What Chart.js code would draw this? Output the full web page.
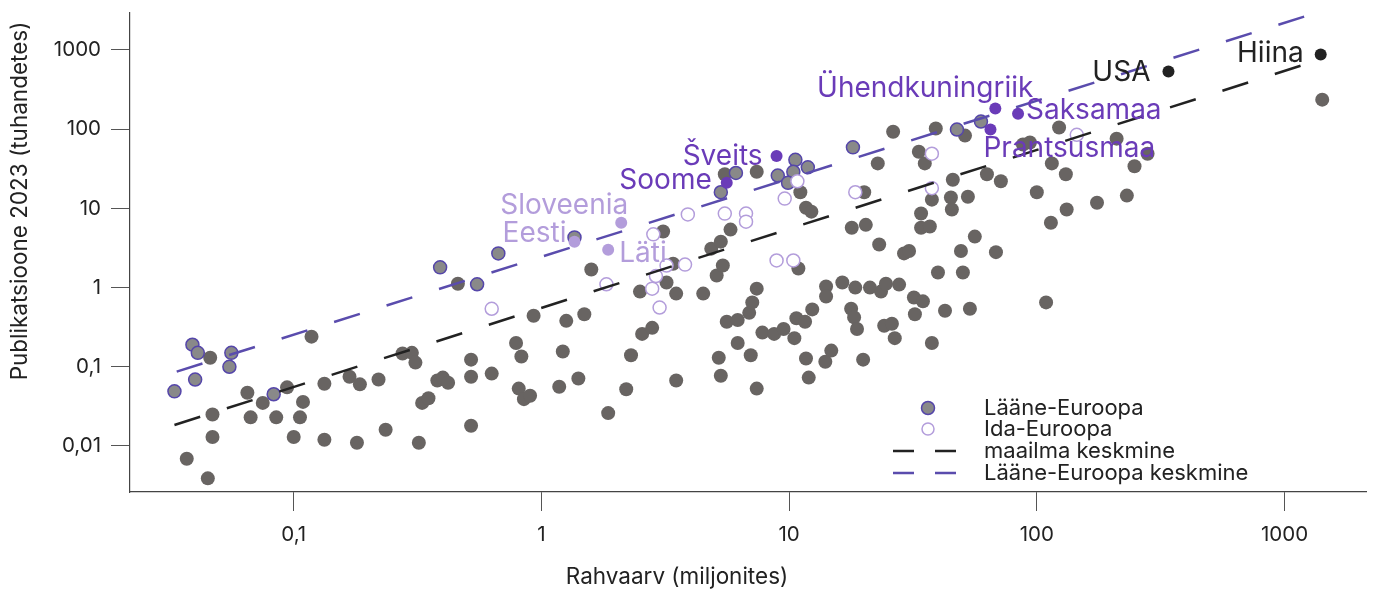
<!DOCTYPE html>
<html>
<head>
<meta charset="utf-8">
<script src="https://cdn.jsdelivr.net/npm/chart.js@4/dist/chart.umd.min.js"></script>
<style>
  html, body { margin: 0; padding: 0; background: #fff; }
  #wrap { width: 1375px; height: 592px; }
</style>
</head>
<body>
<div id="wrap"><canvas id="chart" width="1375" height="592"></canvas></div>
<script>
// population (millions), publications 2023 (thousands)
const otherCountries = [
  [0.037, 0.0069], [0.045, 0.0039], [0.046, 0.13], [0.047, 0.025], [0.047, 0.013], [0.065, 0.047], [0.067, 0.023], [0.075, 0.035], [0.085, 0.023], [0.094, 0.055],
  [0.10, 0.013], [0.106, 0.023], [0.109, 0.036], [0.118, 0.24], [0.133, 0.061], [0.133, 0.012], [0.168, 0.075], [0.18, 0.011], [0.185, 0.06], [0.22, 0.069],
  [0.235, 0.016], [0.275, 0.147], [0.30, 0.15], [0.31, 0.113], [0.32, 0.011], [0.33, 0.035], [0.35, 0.040], [0.38, 0.067], [0.40, 0.073], [0.42, 0.063],
  [0.46, 1.12], [0.52, 0.123], [0.52, 0.075], [0.52, 0.018], [0.63, 0.082], [0.79, 0.20], [0.83, 0.135], [0.81, 0.053], [0.85, 0.039], [0.90, 0.043],
  [0.93, 0.44], [1.18, 0.056], [1.22, 0.156], [1.26, 0.38], [1.41, 0.071], [1.49, 0.46], [1.59, 1.69], [1.86, 0.026], [2.2, 0.052], [2.3, 0.14],
  [2.5, 0.89], [2.55, 0.26], [2.8, 0.31], [3.1, 5.1], [3.2, 1.16], [3.4, 2.0], [3.5, 0.84], [3.5, 0.067], [4.5, 0.84], [4.85, 3.1],
  [5.1, 1.42], [5.2, 0.13], [5.3, 3.8], [5.3, 0.077], [5.4, 1.9], [5.5, 27], [5.6, 0.37], [5.8, 5.4], [6.2, 0.20], [6.2, 0.39],
  [6.9, 0.48], [7.0, 0.14], [7.1, 0.65], [7.4, 0.97], [7.4, 29], [7.4, 0.053], [7.8, 0.27], [8.7, 0.26], [9.5, 0.30], [10.5, 0.23],
  [10.7, 0.41], [10.9, 1.74], [11.1, 16], [11.6, 0.37], [11.7, 10.2], [11.7, 0.127], [12.0, 0.073], [12.3, 9.1], [12.4, 0.53], [14.0, 0.116],
  [14.1, 1.03], [14.1, 0.77], [14.8, 0.16], [16.4, 1.16], [17.8, 0.54], [17.9, 5.7], [18.3, 0.42], [18.5, 1.0], [18.8, 0.30], [19.9, 0.123],
  [20.1, 16], [20.4, 6.2], [21.2, 1.0], [22.8, 37], [23.1, 3.5], [23.5, 0.89], [24.2, 0.33], [24.6, 1.12], [26.0, 0.35], [26.3, 93],
  [26.7, 0.23], [27.8, 1.09], [29.1, 2.7], [30.5, 2.9], [31.9, 0.75], [32.2, 0.46], [33.4, 52], [34.1, 8.6], [34.1, 5.7], [34.7, 0.67],
  [35.3, 37], [37.0, 5.9], [37.7, 12.9], [37.7, 0.20], [39.1, 102], [39.9, 1.55], [42.6, 0.51], [45.0, 13.7], [45.4, 9.7], [45.8, 23],
  [49.4, 2.9], [50.3, 1.55], [51.3, 83], [52.7, 14], [53.7, 0.54], [56.2, 4.4], [62.9, 27], [68.4, 2.8], [71.6, 22], [87.9, 64],
  [93.8, 68], [100, 16], [109, 0.65], [114, 6.6], [115, 37], [123, 105], [131, 27], [132, 9.7], [175, 11.8], [210, 76],
  [231, 14.5], [248, 34], [280, 49], [1420, 236]
];

const westernEurope = [
  [0.033, 0.049], [0.039, 0.19], [0.041, 0.15], [0.040, 0.069], [0.056, 0.15], [0.055, 0.10], [0.083, 0.045],
  [0.39, 1.8], [0.55, 1.1], [0.67, 2.7], [1.36, 4.3], [5.3, 16], [6.1, 28], [9.0, 26], [10.6, 41],
  [11.9, 33], [10.4, 29], [9.9, 21], [18.1, 59], [47.6, 99], [59.5, 125]
];

const easternEurope = [
  [0.63, 0.54], [1.83, 1.1], [2.83, 4.7], [3.9, 8.4], [5.5, 8.6], [6.7, 8.6], [6.7, 6.8], [9.6, 13.3], [10.8, 22], [3.2, 1.9],
  [2.9, 1.4], [2.8, 0.97], [3.0, 0.56], [3.8, 1.95], [8.9, 2.2], [10.4, 2.2], [18.5, 16], [37.7, 49], [37.7, 18], [145, 85]
];

const westNames = ['Šveits', 'Soome', 'Ühendkuningriik', 'Saksamaa', 'Prantsusmaa'];
const westPop = [8.9, 5.6, 68, 84, 65];
const westPubs = [46, 21, 182, 157, 99];

const eastNames = ['Sloveenia', 'Eesti', 'Läti'];
const eastPop = [2.1, 1.36, 1.86];
const eastPubs = [6.6, 3.8, 3.0];

const bigNames = ['USA', 'Hiina'];
const bigPop = [340, 1400];
const bigPubs = [534, 875];

const worldAvgPop = [0.033, 1274];
const worldAvgPubs = [0.0184, 693];
const westAvgPop = [0.0337, 1274];
const westAvgPubs = [0.087, 2800];

const xTickValues = [0.1, 1, 10, 100, 1000];
const xTickLabels = ['0,1', '1', '10', '100', '1000'];
const yTickValues = [0.01, 0.1, 1, 10, 100, 1000];
const yTickLabels = ['0,01', '0,1', '1', '10', '100', '1000'];

const legendLabels = ['Lääne-Euroopa', 'Ida-Euroopa', 'maailma keskmine', 'Lääne-Euroopa keskmine'];
const xTitle = 'Rahvaarv (miljonites)';
const yTitle = 'Publikatsioone 2023 (tuhandetes)';

const FONT = 'Inter, "Noto Sans", sans-serif';
const GRAY = '#686462';
const WEST_FILL = '#898989';
const WEST_EDGE = '#5546aa';
const EAST_EDGE = '#b39ddb';
const DARK_PURPLE = '#6a3bb8';
const LINE_PURPLE = '#5a4cad';
const INK = '#222222';

// label offsets from the dot: [dx, dy, align]
const labelPlacement = {
  'Šveits': [-14, 1, 'right'],
  'Soome': [-15, -2, 'right'],
  'Ühendkuningriik': [38, -20, 'right'],
  'Saksamaa': [8, -3, 'left'],
  'Prantsusmaa': [-7, 19, 'left'],
  'Sloveenia': [7, -17, 'right'],
  'Eesti': [-8, -8, 'right'],
  'Läti': [11, 4, 'left'],
  'USA': [-18, 1, 'right'],
  'Hiina': [-17, -1, 'right']
};

function pairs(list) {
  return list.map(p => ({ x: p[0], y: p[1] }));
}

function zipPoints(xs, ys) {
  return xs.map((x, i) => ({ x: x, y: ys[i] }));
}

const labelsPlugin = {
  id: 'pointLabels',
  afterDatasetsDraw(chart) {
    const ctx = chart.ctx;
    ctx.save();
    ctx.font = '28px ' + FONT;
    ctx.textBaseline = 'middle';
    chart.data.datasets.forEach((ds, di) => {
      if (!ds.names) return;
      const meta = chart.getDatasetMeta(di);
      meta.data.forEach((el, i) => {
        const name = ds.names[i];
        const pl = labelPlacement[name];
        ctx.fillStyle = ds.labelColor;
        ctx.textAlign = pl[2];
        ctx.fillText(name, el.x + pl[0], el.y + pl[1]);
      });
    });
    ctx.restore();
  }
};

const legendPlugin = {
  id: 'customLegend',
  afterDraw(chart) {
    const ctx = chart.ctx;
    const rows = [408, 429, 451, 473];
    ctx.save();
    ctx.beginPath();
    ctx.arc(928, rows[0], 6.5, 0, Math.PI * 2);
    ctx.fillStyle = WEST_FILL;
    ctx.fill();
    ctx.lineWidth = 1.5;
    ctx.strokeStyle = WEST_EDGE;
    ctx.stroke();
    ctx.beginPath();
    ctx.arc(928, rows[1], 6, 0, Math.PI * 2);
    ctx.fillStyle = '#fff';
    ctx.fill();
    ctx.strokeStyle = EAST_EDGE;
    ctx.stroke();
    ctx.lineWidth = 2.5;
    ctx.setLineDash([21, 21]);
    ctx.strokeStyle = INK;
    ctx.beginPath();
    ctx.moveTo(893, rows[2]);
    ctx.lineTo(957, rows[2]);
    ctx.stroke();
    ctx.strokeStyle = LINE_PURPLE;
    ctx.beginPath();
    ctx.moveTo(893, rows[3]);
    ctx.lineTo(957, rows[3]);
    ctx.stroke();
    ctx.setLineDash([]);
    ctx.font = '22px ' + FONT;
    ctx.fillStyle = INK;
    ctx.textAlign = 'left';
    ctx.textBaseline = 'middle';
    legendLabels.forEach((t, i) => ctx.fillText(t, 984, rows[i]));

    ctx.font = '22.5px ' + FONT;
    ctx.textAlign = 'center';
    ctx.fillText(xTitle, 677, 577);
    ctx.translate(20, 201);
    ctx.rotate(-Math.PI / 2);
    ctx.fillText(yTitle, 0, 0);
    ctx.restore();
  }
};

const ctx = document.getElementById('chart').getContext('2d');
new Chart(ctx, {
  type: 'scatter',
  data: {
    datasets: [
      {
        type: 'line', data: zipPoints(worldAvgPop, worldAvgPubs),
        borderColor: INK, borderWidth: 2.5, borderDash: [27, 28], pointRadius: 0, fill: false
      },
      {
        type: 'line', data: zipPoints(westAvgPop, westAvgPubs),
        borderColor: LINE_PURPLE, borderWidth: 2.5, borderDash: [27, 28], pointRadius: 0, fill: false
      },
      {
        data: zipPoints(bigPop, bigPubs), names: bigNames, labelColor: INK,
        backgroundColor: INK, pointRadius: 6, borderWidth: 0
      },
      {
        data: zipPoints(westPop, westPubs), names: westNames, labelColor: DARK_PURPLE,
        backgroundColor: DARK_PURPLE, pointRadius: 6, borderWidth: 0
      },
      {
        data: zipPoints(eastPop, eastPubs), names: eastNames, labelColor: EAST_EDGE,
        backgroundColor: EAST_EDGE, pointRadius: 6, borderWidth: 0
      },
      {
        data: pairs(easternEurope),
        backgroundColor: '#ffffff', borderColor: EAST_EDGE, borderWidth: 1.5, pointRadius: 6.5
      },
      {
        data: pairs(westernEurope),
        backgroundColor: WEST_FILL, borderColor: WEST_EDGE, borderWidth: 1.5, pointRadius: 6.5
      },
      {
        data: pairs(otherCountries),
        backgroundColor: GRAY, borderWidth: 0, pointRadius: 7
      }
    ]
  },
  options: {
    responsive: false,
    animation: false,
    layout: { padding: { top: 13, right: 7, left: 0, bottom: 0 } },
    plugins: { legend: { display: false }, tooltip: { enabled: false } },
    elements: { point: { hoverRadius: 7 } },
    datasets: { scatter: { clip: false }, line: { clip: false } },
    scales: {
      x: {
        type: 'logarithmic',
        min: 0.02183,
        max: 2143,
        afterBuildTicks: s => { s.ticks = xTickValues.map(v => ({ value: v })); },
        afterFit: s => { s.height = 100; s.paddingLeft = 0; s.paddingRight = 0; },
        ticks: {
          autoSkip: false, maxRotation: 0, padding: 12,
          font: { family: FONT, size: 20.5 }, color: INK,
          callback: (v, i) => xTickLabels[i]
        },
        grid: { drawOnChartArea: false, drawTicks: true, tickLength: 19, color: '#555', lineWidth: 1 },
        border: { display: true, color: '#444', width: 1.2 }
      },
      y: {
        type: 'logarithmic',
        min: 0.002624,
        max: 2931,
        afterBuildTicks: s => { s.ticks = yTickValues.map(v => ({ value: v })); },
        afterFit: s => { s.width = 130; s.paddingTop = 0; s.paddingBottom = 0; },
        ticks: {
          autoSkip: false, padding: 10,
          font: { family: FONT, size: 20.5 }, color: INK,
          callback: (v, i) => yTickLabels[i]
        },
        grid: { drawOnChartArea: false, drawTicks: true, tickLength: 19, color: '#555', lineWidth: 1 },
        border: { display: true, color: '#444', width: 1.2 }
      }
    }
  },
  plugins: [labelsPlugin, legendPlugin]
});
</script>
</body>
</html>
